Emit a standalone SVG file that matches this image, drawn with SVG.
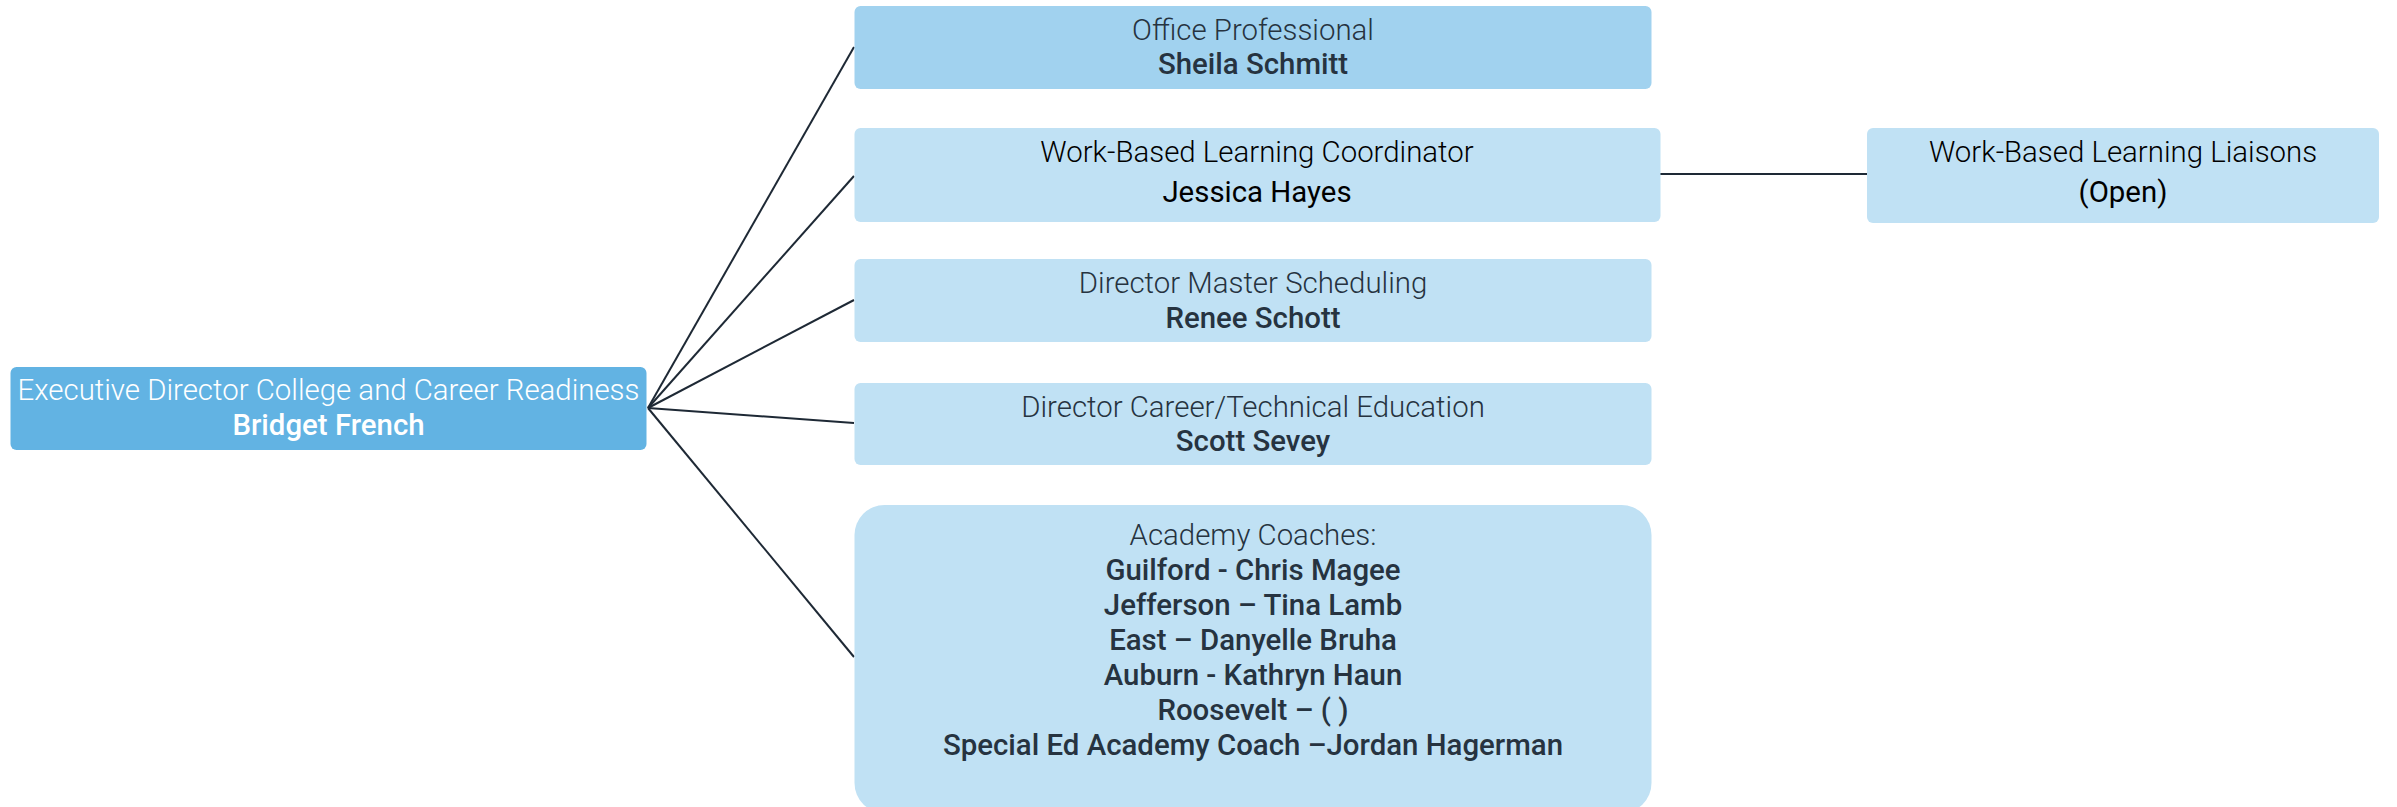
<svg xmlns="http://www.w3.org/2000/svg" width="2397" height="807" viewBox="0 0 2397 807">
<style>
text{font-family:Roboto,"Liberation Sans",sans-serif;font-size:29.4px;text-anchor:middle}
.t{font-weight:300;fill:#263340}
.n{font-weight:500;fill:#263340}
.k{font-weight:300;fill:#000}
.kn{font-weight:400;fill:#000}
.w{font-weight:300;fill:#fff}
.wn{font-weight:500;fill:#fff}
.box{fill:#C0E1F4}
.conn{stroke:#1E2935;stroke-width:2;fill:none}
</style>
<rect width="2397" height="807" fill="#fff"/>
<g id="connectors">
<line class="conn" x1="648" y1="408" x2="854" y2="47"/>
<line class="conn" x1="648" y1="408" x2="854" y2="176"/>
<line class="conn" x1="648" y1="408" x2="854" y2="300"/>
<line class="conn" x1="648" y1="408" x2="854" y2="423"/>
<line class="conn" x1="648" y1="408" x2="854" y2="657"/>
<line class="conn" x1="1660" y1="174" x2="1867" y2="174"/>
</g>
<g id="root">
<rect x="10.5" y="367" width="636" height="83" rx="6" fill="#62B3E3"/>
<text class="w" x="328.5" y="400">Executive Director College and Career Readiness</text>
<text class="wn" x="328.5" y="435">Bridget French</text>
</g>
<g id="office">
<rect x="854.5" y="6" width="797" height="83" rx="6" fill="#A1D2EF"/>
<text class="t" x="1253" y="40">Office Professional</text>
<text class="n" x="1253" y="74">Sheila Schmitt</text>
</g>
<g id="wbl-coordinator">
<rect class="box" x="854.5" y="128" width="806" height="94" rx="6"/>
<text class="k" x="1257" y="162">Work-Based Learning Coordinator</text>
<text class="kn" x="1257" y="202">Jessica Hayes</text>
</g>
<g id="wbl-liaisons">
<rect class="box" x="1867" y="128" width="512" height="95" rx="6"/>
<text class="k" x="2123" y="162">Work-Based Learning Liaisons</text>
<text class="kn" x="2123" y="202">(Open)</text>
</g>
<g id="master-scheduling">
<rect class="box" x="854.5" y="259" width="797" height="83" rx="6"/>
<text class="t" x="1253" y="293">Director Master Scheduling</text>
<text class="n" x="1253" y="328">Renee Schott</text>
</g>
<g id="cte">
<rect class="box" x="854.5" y="383" width="797" height="82" rx="6"/>
<text class="t" x="1253" y="417">Director Career/Technical Education</text>
<text class="n" x="1253" y="451">Scott Sevey</text>
</g>
<g id="academy">
<rect class="box" x="854.5" y="505" width="797" height="308" rx="30"/>
<text class="t" x="1253" y="545">Academy Coaches:</text>
<text class="n" x="1253" y="580">Guilford - Chris Magee</text>
<text class="n" x="1253" y="615">Jefferson – Tina Lamb</text>
<text class="n" x="1253" y="650">East – Danyelle Bruha</text>
<text class="n" x="1253" y="685">Auburn - Kathryn Haun</text>
<text class="n" x="1253" y="720">Roosevelt – ( )</text>
<text class="n" x="1253" y="755">Special Ed Academy Coach –Jordan Hagerman</text>
</g>
</svg>
